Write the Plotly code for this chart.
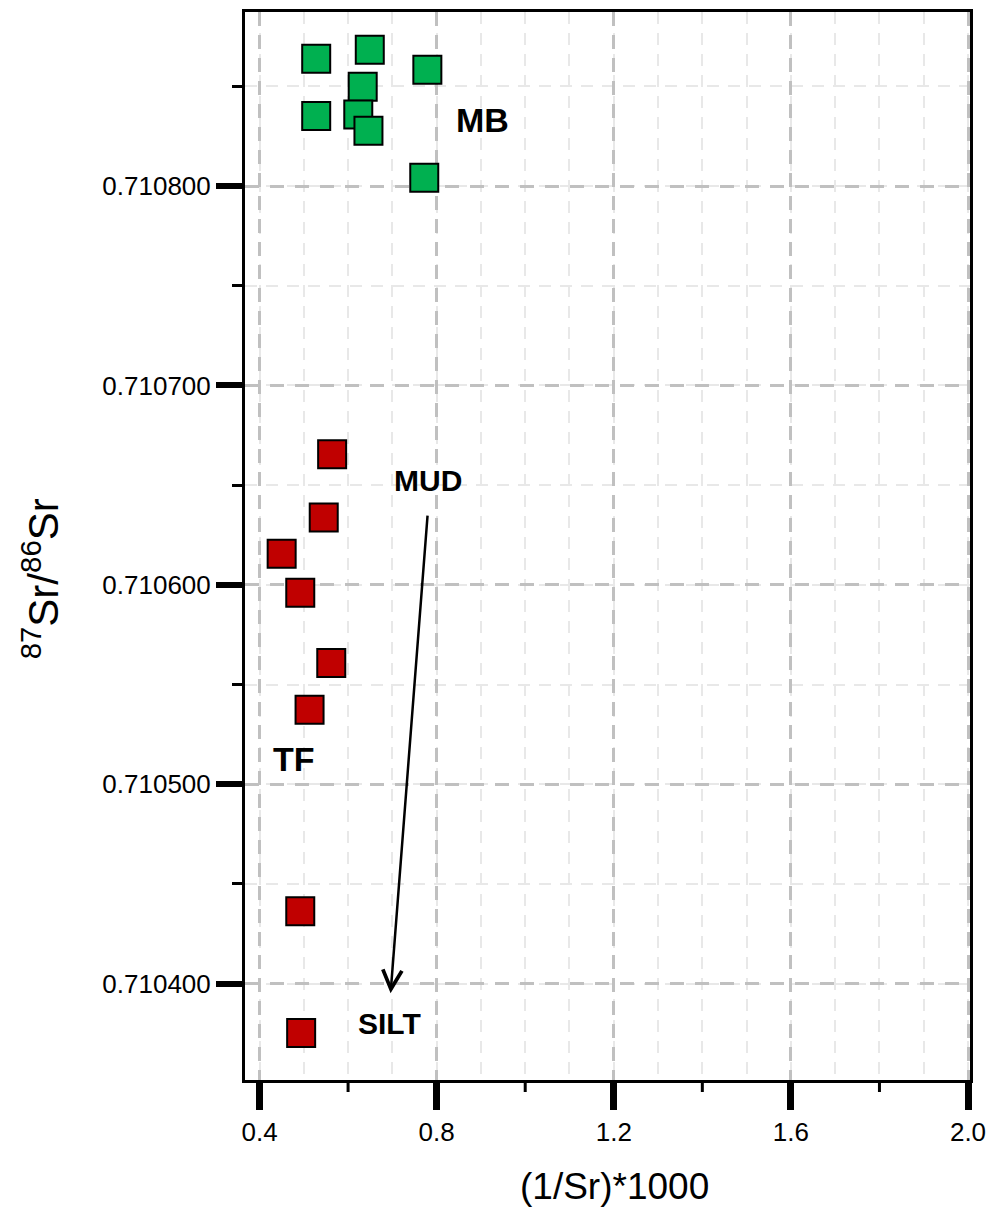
import plotly.graph_objects as go

# ---- data ----
mb_x = [0.528, 0.649, 0.779, 0.633, 0.528, 0.623, 0.646, 0.772]
mb_y = [0.7108638, 0.7108684, 0.7108583, 0.7108498, 0.7108352, 0.7108359, 0.7108277, 0.7108042]

tf_x = [0.564, 0.545, 0.450, 0.492, 0.562, 0.513, 0.492, 0.494]
tf_y = [0.7106655, 0.7106338, 0.7106156, 0.7105960, 0.7105608, 0.7105374, 0.7104363, 0.7103753]

x_tickvals = [0.4, 0.8, 1.2, 1.6, 2.0]
x_ticktext = ["0.4", "0.8", "1.2", "1.6", "2.0"]
x_minor_ticks = [0.6, 1.0, 1.4, 1.8]
y_tickvals = [0.7104, 0.7105, 0.7106, 0.7107, 0.7108]
y_ticktext = ["0.710400", "0.710500", "0.710600", "0.710700", "0.710800"]

x_range = [0.3672, 2.0045]
y_range = [0.7103517, 0.7108873]

x_title = "(1/Sr)*1000"
y_title = "<sup>87</sup>Sr/<sup>86</sup>Sr"

labels = ["MB", "MUD", "TF", "SILT"]
label_x = [0.904, 0.780, 0.478, 0.694]
label_y = [0.7108330, 0.7106525, 0.7105125, 0.7103800]
label_size = [34, 30, 34, 30]

arrow_tail = (0.7797, 0.7106355)
arrow_head = (0.696, 0.7103952)

FONT = "Liberation Sans, Arial, sans-serif"
GREEN = "#00B050"
RED = "#C00000"

fig = go.Figure()
fig.add_trace(go.Scatter(
    x=mb_x, y=mb_y, mode="markers", name="MB",
    marker=dict(symbol="square", size=28, color=GREEN, line=dict(color="black", width=2)),
))
fig.add_trace(go.Scatter(
    x=tf_x, y=tf_y, mode="markers", name="TF",
    marker=dict(symbol="square", size=28, color=RED, line=dict(color="black", width=2)),
))

for t, xx, yy, s in zip(labels, label_x, label_y, label_size):
    fig.add_annotation(x=xx, y=yy, xref="x", yref="y", text="<b>%s</b>" % t, showarrow=False,
                       font=dict(family=FONT, size=s, color="black"), xanchor="center", yanchor="middle")

fig.add_annotation(x=arrow_head[0], y=arrow_head[1], ax=arrow_tail[0], ay=arrow_tail[1],
                   xref="x", yref="y", axref="x", ayref="y", text="", showarrow=True,
                   arrowhead=5, arrowsize=1.5, arrowwidth=2.5, arrowcolor="black", standoff=0)

# axis titles (placed as in the reference)
fig.add_annotation(x=0.509, y=-0.0999, xref="paper", yref="paper", text=x_title, showarrow=False,
                   font=dict(family=FONT, size=37, color="black"), xanchor="center", yanchor="middle")
fig.add_annotation(x=-0.2814, y=0.4697, xref="paper", yref="paper", text=y_title, showarrow=False,
                   textangle=-90, font=dict(family=FONT, size=42, color="black"),
                   xanchor="center", yanchor="middle")

# short minor ticks on the x axis (every 0.4, offset 0.2)
for v in x_minor_ticks:
    fig.add_shape(type="line", xref="x", yref="paper", ysizemode="pixel", yanchor=0,
                  x0=v, x1=v, y0=-1, y1=-12, line=dict(color="black", width=3))

fig.update_layout(
    width=986, height=1201,
    margin=dict(l=237, r=24, t=1, b=129),
    paper_bgcolor="white", plot_bgcolor="white",
    showlegend=False,
    font=dict(family=FONT, color="black"),
    xaxis=dict(
        range=x_range, tickmode="array", tickvals=x_tickvals, ticktext=x_ticktext,
        ticks="outside", ticklen=27, tickwidth=7, tickcolor="black",
        tickfont=dict(family=FONT, size=26, color="black"),
        showline=True, linewidth=3, linecolor="black", mirror=True,
        showgrid=True, gridcolor="#c0c0c0", gridwidth=3, griddash="14px,9px",
        zeroline=False,
        minor=dict(dtick=0.1, tick0=0.4, ticks="", showgrid=True,
                   gridcolor="#e8e8e8", gridwidth=2, griddash="12px,9px"),
    ),
    yaxis=dict(
        range=y_range, tickmode="array", tickvals=y_tickvals, ticktext=y_ticktext,
        ticks="outside", ticklen=26, tickwidth=6, tickcolor="black",
        tickfont=dict(family=FONT, size=26, color="black"),
        showline=True, linewidth=3, linecolor="black", mirror=True,
        showgrid=True, gridcolor="#c0c0c0", gridwidth=3, griddash="14px,11px",
        zeroline=False,
        minor=dict(dtick=0.00005, tick0=0.7104, ticks="outside", ticklen=10, tickwidth=3,
                   tickcolor="black", showgrid=True, gridcolor="#e8e8e8", gridwidth=2,
                   griddash="12px,9px"),
    ),
)

fig.write_html("out.html")
